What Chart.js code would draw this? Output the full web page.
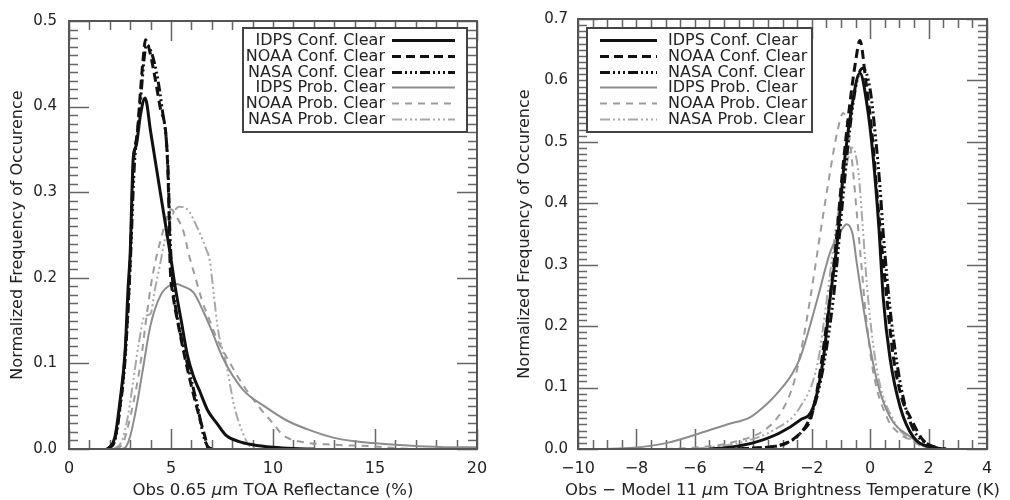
<!DOCTYPE html>
<html>
<head>
<meta charset="utf-8">
<script src="https://cdn.jsdelivr.net/npm/chart.js@4.4.1/dist/chart.umd.min.js"></script>
<style>
  html, body { margin: 0; padding: 0; background: #fff; }
  #wrap { position: relative; width: 1010px; height: 500px; }
  .panel { position: absolute; top: 0; width: 505px; height: 500px; }
</style>
</head>
<body>
<div id="wrap">
  <div class="panel" style="left:0"><canvas id="refl" width="505" height="500"></canvas></div>
  <div class="panel" style="left:505px"><canvas id="bt" width="505" height="500"></canvas></div>
</div>
<script>
// Series names (same for both panels)
const seriesLabels = ['IDPS Conf. Clear', 'NOAA Conf. Clear', 'NASA Conf. Clear',
                      'IDPS Prob. Clear', 'NOAA Prob. Clear', 'NASA Prob. Clear'];

// Left panel: Obs 0.65 um reflectance (%)
const reflTicksX = [0, 5, 10, 15, 20];
const reflTicksY = [0, 0.1, 0.2, 0.3, 0.4, 0.5];

const reflIdpsConfX = [1.85, 2.0, 2.25, 2.5, 2.75, 2.9, 3.0, 3.15, 3.3, 3.5, 3.73, 4.0, 4.5, 5.0, 5.2, 5.5, 5.8, 6.1, 6.4, 6.8, 7.25, 7.7, 8.3, 9.0, 10.0, 11.0, 12.0];
const reflIdpsConfY = [0, 0.002, 0.014, 0.056, 0.114, 0.19, 0.229, 0.34, 0.355, 0.39, 0.41, 0.371, 0.296, 0.222, 0.19, 0.15, 0.11, 0.085, 0.068, 0.045, 0.03, 0.016, 0.009, 0.005, 0.002, 0.0005, 0];

const reflNoaaConfX = [1.9, 2.25, 2.5, 2.75, 3.0, 3.15, 3.35, 3.5, 3.65, 3.75, 3.9, 4.12, 4.46, 4.8, 4.9, 4.95, 5.1, 5.3, 5.8, 6.27, 6.67, 6.8, 7.0];
const reflNoaaConfY = [0, 0.012, 0.05, 0.11, 0.22, 0.33, 0.37, 0.417, 0.46, 0.478, 0.47, 0.446, 0.40, 0.35, 0.28, 0.22, 0.18, 0.152, 0.094, 0.048, 0.014, 0.002, 0];

const reflNasaConfX = [1.9, 2.25, 2.5, 2.75, 3.0, 3.2, 3.4, 3.55, 3.7, 3.8, 4.2, 4.55, 4.85, 4.95, 5.1, 5.3, 5.8, 6.3, 6.6, 6.8, 7.0];
const reflNasaConfY = [0, 0.01, 0.048, 0.105, 0.215, 0.33, 0.38, 0.42, 0.46, 0.472, 0.45, 0.40, 0.33, 0.25, 0.19, 0.155, 0.10, 0.05, 0.015, 0.003, 0];

const reflIdpsProbX = [2.6, 2.8, 3.0, 3.3, 3.6, 4.0, 4.5, 5.0, 5.2, 5.6, 6.1, 6.6, 7.0, 7.55, 8.5, 9.7, 10.7, 11.8, 13.0, 14.0, 14.9, 16.0, 17.5, 19.0, 20.0];
const reflIdpsProbY = [0, 0.003, 0.015, 0.048, 0.09, 0.145, 0.18, 0.192, 0.193, 0.19, 0.183, 0.16, 0.138, 0.106, 0.07, 0.048, 0.033, 0.022, 0.013, 0.009, 0.007, 0.005, 0.003, 0.002, 0.002];

const reflNoaaProbX = [2.3, 2.65, 3.0, 3.5, 3.8, 4.1, 4.55, 5.0, 5.3, 5.6, 5.9, 6.2, 6.5, 6.9, 7.25, 7.9, 8.5, 9.35, 10.0, 10.5, 11.5, 13.0, 15.0, 16.0, 17.0];
const reflNoaaProbY = [0, 0.007, 0.037, 0.099, 0.155, 0.203, 0.249, 0.28, 0.27, 0.255, 0.225, 0.20, 0.175, 0.15, 0.129, 0.10, 0.076, 0.048, 0.03, 0.016, 0.008, 0.005, 0.003, 0.001, 0];

const reflNasaProbX = [2.2, 2.6, 2.9, 3.15, 3.4, 3.7, 4.0, 4.2, 4.45, 4.8, 5.1, 5.4, 5.8, 6.3, 6.7, 6.9, 7.1, 7.3, 7.7, 8.1, 8.5, 8.8, 9.2];
const reflNasaProbY = [0, 0.01, 0.04, 0.08, 0.12, 0.155, 0.158, 0.185, 0.214, 0.255, 0.275, 0.283, 0.28, 0.258, 0.235, 0.22, 0.18, 0.14, 0.10, 0.05, 0.02, 0.005, 0];

// Right panel: Obs - Model 11 um brightness temperature (K)
const btTicksX = [-10, -8, -6, -4, -2, 0, 2, 4];
const btTicksY = [0, 0.1, 0.2, 0.3, 0.4, 0.5, 0.6, 0.7];

const btIdpsConfX = [-5.5, -4.8, -4.0, -3.1, -2.4, -1.95, -1.6, -1.37, -1.1, -0.92, -0.65, -0.35, -0.1, 0.1, 0.3, 0.45, 0.68, 1.03, 1.47, 2.05, 2.5];
const btIdpsConfY = [0, 0.003, 0.01, 0.026, 0.047, 0.068, 0.148, 0.245, 0.348, 0.45, 0.55, 0.612, 0.558, 0.477, 0.36, 0.245, 0.148, 0.068, 0.02, 0.003, 0];

const btNoaaConfX = [-5.0, -3.5, -2.85, -2.3, -2.05, -1.8, -1.5, -1.2, -0.95, -0.7, -0.5, -0.35, -0.15, 0.05, 0.3, 0.57, 0.8, 1.1, 1.37, 1.8, 2.2, 2.6];
const btNoaaConfY = [0, 0.003, 0.01, 0.03, 0.047, 0.10, 0.20, 0.32, 0.45, 0.56, 0.63, 0.665, 0.60, 0.52, 0.38, 0.245, 0.148, 0.08, 0.052, 0.015, 0.003, 0];

const btNasaConfX = [-5.0, -3.5, -2.85, -2.4, -2.05, -1.7, -1.26, -0.95, -0.7, -0.45, -0.25, 0.0, 0.2, 0.34, 0.45, 0.68, 0.92, 1.2, 1.5, 1.9, 2.3, 2.6];
const btNasaConfY = [0, 0.003, 0.01, 0.025, 0.052, 0.11, 0.245, 0.40, 0.52, 0.60, 0.62, 0.585, 0.50, 0.425, 0.35, 0.229, 0.139, 0.07, 0.03, 0.01, 0.002, 0];

const btIdpsProbX = [-9.2, -8.1, -6.95, -5.8, -4.9, -4.1, -3.5, -3.1, -2.7, -2.4, -1.8, -1.37, -1.0, -0.8, -0.6, -0.45, -0.1, 0.24, 0.68, 1.37, 1.95, 2.4];
const btIdpsProbY = [0, 0.002, 0.01, 0.026, 0.04, 0.052, 0.075, 0.095, 0.12, 0.148, 0.245, 0.32, 0.355, 0.366, 0.35, 0.30, 0.192, 0.11, 0.052, 0.02, 0.003, 0];

const btNoaaProbX = [-7.0, -5.8, -4.7, -3.5, -2.95, -2.6, -2.3, -2.05, -1.7, -1.43, -1.13, -0.92, -0.75, -0.6, -0.45, -0.3, -0.15, 0.1, 0.57, 1.0, 1.37, 1.8, 2.2];
const btNoaaProbY = [0, 0.003, 0.011, 0.035, 0.068, 0.11, 0.176, 0.245, 0.353, 0.434, 0.515, 0.547, 0.52, 0.46, 0.38, 0.30, 0.22, 0.127, 0.052, 0.025, 0.015, 0.004, 0];

const btNasaProbX = [-6.0, -4.5, -3.3, -2.4, -1.8, -1.48, -1.2, -0.9, -0.6, -0.4, -0.25, -0.1, 0.24, 0.8, 1.5, 2.1];
const btNasaProbY = [0, 0.01, 0.031, 0.068, 0.139, 0.245, 0.35, 0.44, 0.49, 0.45, 0.36, 0.26, 0.127, 0.047, 0.012, 0];

// line look per series, in legend order
const lineStyles = [
  { color: '#111', width: 3, dash: [] },
  { color: '#111', width: 3, dash: [9, 5] },
  { color: '#111', width: 3, dash: [10, 3, 2, 3, 2, 3, 2, 3] },
  { color: '#8c8c8c', width: 2, dash: [] },
  { color: '#9c9c9c', width: 2, dash: [7, 6] },
  { color: '#a8a8a8', width: 2, dash: [10, 3, 2, 3, 2, 3, 2, 3] }
];

const FONT = 'DejaVu Sans';
const TEXT = '#222';

function toPoints(xs, ys) {
  return xs.map((x, i) => ({ x: x, y: ys[i] }));
}

function makeDatasets(pairs) {
  return pairs.map((p, i) => ({
    label: seriesLabels[i],
    data: toPoints(p[0], p[1]),
    borderColor: lineStyles[i].color,
    borderWidth: lineStyles[i].width,
    borderDash: lineStyles[i].dash,
    pointRadius: 0,
    fill: false,
    cubicInterpolationMode: 'monotone'
  }));
}

// inward major + minor ticks on all four sides, then the box
const framePlugin = {
  id: 'frame',
  beforeDatasetsDraw(chart, args, o) {
    const { ctx, chartArea: a, scales: { x, y } } = chart;
    ctx.save();
    ctx.strokeStyle = '#666';
    ctx.lineWidth = 1.5;
    const isMajor = (v, list) => list.some(t => Math.abs(t - v) < 1e-6);
    ctx.beginPath();
    for (let k = 0; x.min + k * o.xMinor <= x.max + 1e-9; k++) {
      const v = x.min + k * o.xMinor;
      const px = Math.round(x.getPixelForValue(v)) + 0.5;
      const len = isMajor(v, o.xMajor) ? 20 : 9;
      ctx.moveTo(px, a.bottom); ctx.lineTo(px, a.bottom - len);
      ctx.moveTo(px, a.top); ctx.lineTo(px, a.top + len);
    }
    for (let k = 0; y.min + k * o.yMinor <= y.max + 1e-9; k++) {
      const v = y.min + k * o.yMinor;
      const py = Math.round(y.getPixelForValue(v)) + 0.5;
      const len = isMajor(v, o.yMajor) ? 20 : 9;
      ctx.moveTo(a.left, py); ctx.lineTo(a.left + len, py);
      ctx.moveTo(a.right, py); ctx.lineTo(a.right - len, py);
    }
    ctx.stroke();
    ctx.restore();
  },
  afterDatasetsDraw(chart) {
    const { ctx, chartArea: a } = chart;
    ctx.save();
    ctx.strokeStyle = '#555';
    ctx.lineWidth = 2;
    ctx.strokeRect(a.left, a.top, a.right - a.left, a.bottom - a.top);
    ctx.restore();
  }
};

// boxed legend in IDL style
const boxLegend = {
  id: 'boxLegend',
  afterDraw(chart, args, o) {
    const ctx = chart.ctx;
    ctx.save();
    ctx.fillStyle = '#fff';
    ctx.fillRect(o.x, o.y, o.w, o.h);
    ctx.strokeStyle = '#444';
    ctx.lineWidth = 2;
    ctx.strokeRect(o.x, o.y, o.w, o.h);
    ctx.font = '16px "' + FONT + '"';
    ctx.textBaseline = 'middle';
    chart.data.datasets.forEach((ds, i) => {
      const cy = Math.round(o.y + o.rowTop + i * o.rowStep) + 0.5;
      ctx.strokeStyle = ds.borderColor;
      ctx.lineWidth = ds.borderWidth;
      ctx.setLineDash(ds.borderDash);
      ctx.beginPath();
      ctx.moveTo(o.lineX1, cy);
      ctx.lineTo(o.lineX2, cy);
      ctx.stroke();
      ctx.setLineDash([]);
      ctx.fillStyle = TEXT;
      ctx.textAlign = o.textAlign;
      ctx.fillText(ds.label, o.textX, cy);
    });
    ctx.restore();
  }
};

// x-axis title with an italic mu, centred under the plot (may overhang it)
const xTitlePlugin = {
  id: 'xTitle',
  afterDraw(chart, args, o) {
    const { ctx, chartArea: a } = chart;
    ctx.save();
    ctx.fillStyle = TEXT;
    ctx.textBaseline = 'middle';
    ctx.textAlign = 'left';
    const fontOf = p => (p.italic ? 'italic ' : '') + o.size + 'px "' + FONT + '"';
    let total = 0;
    o.parts.forEach(p => { ctx.font = fontOf(p); total += ctx.measureText(p.text).width; });
    let x = (a.left + a.right) / 2 - total / 2;
    o.parts.forEach(p => {
      ctx.font = fontOf(p);
      ctx.fillText(p.text, x, o.y);
      x += ctx.measureText(p.text).width;
    });
    ctx.restore();
  }
};

function axisOptions(cfg) {
  const fmtX = v => String(v).replace('-', '\u2212');
  return {
    x: {
      type: 'linear',
      min: cfg.xTicks[0],
      max: cfg.xTicks[cfg.xTicks.length - 1],
      afterBuildTicks: s => { s.ticks = cfg.xTicks.map(v => ({ value: v })); },
      afterFit: s => { s.height = 51; },
      grid: { display: false, drawTicks: false },
      border: { display: false },
      ticks: { color: TEXT, font: { family: FONT, size: 16 }, padding: 10, maxRotation: 0, callback: fmtX }
    },
    y: {
      type: 'linear',
      min: cfg.yTicks[0],
      max: cfg.yTicks[cfg.yTicks.length - 1],
      afterBuildTicks: s => { s.ticks = cfg.yTicks.map(v => ({ value: v })); },
      afterFit: s => { s.width = cfg.yWidth; },
      grid: { display: false, drawTicks: false },
      border: { display: false },
      ticks: { color: TEXT, font: { family: FONT, size: 15 }, padding: cfg.yPad, callback: v => v.toFixed(1) },
      title: { display: true, text: 'Normalized Frequency of Occurence', color: TEXT, font: { family: FONT, size: 16 }, padding: { top: cfg.yTitlePad, bottom: 0 } }
    }
  };
}

new Chart(document.getElementById('refl'), {
  type: 'line',
  data: {
    datasets: makeDatasets([
      [reflIdpsConfX, reflIdpsConfY], [reflNoaaConfX, reflNoaaConfY], [reflNasaConfX, reflNasaConfY],
      [reflIdpsProbX, reflIdpsProbY], [reflNoaaProbX, reflNoaaProbY], [reflNasaProbX, reflNasaProbY]
    ])
  },
  options: {
    responsive: false,
    animation: false,
    layout: { padding: { left: 0, right: 28, top: 15, bottom: 0 } },
    scales: axisOptions({ xTicks: reflTicksX, yTicks: reflTicksY, yWidth: 69, yPad: 12, yTitlePad: 8 }),
    plugins: {
      legend: { display: false },
      tooltip: { enabled: false },
      frame: { xMinor: 1, xMajor: reflTicksX, yMinor: 0.01, yMajor: reflTicksY },
      boxLegend: { x: 243, y: 28, w: 224, h: 104, rowTop: 12, rowStep: 15.8, lineX1: 392, lineX2: 455, textX: 385, textAlign: 'right' },
      xTitle: { y: 491, size: 16.5, parts: [{ text: 'Obs 0.65 ' }, { text: '\u03bc', italic: true }, { text: 'm TOA Reflectance (%)' }] }
    }
  },
  plugins: [framePlugin, boxLegend, xTitlePlugin]
});

new Chart(document.getElementById('bt'), {
  type: 'line',
  data: {
    datasets: makeDatasets([
      [btIdpsConfX, btIdpsConfY], [btNoaaConfX, btNoaaConfY], [btNasaConfX, btNasaConfY],
      [btIdpsProbX, btIdpsProbY], [btNoaaProbX, btNoaaProbY], [btNasaProbX, btNasaProbY]
    ])
  },
  options: {
    responsive: false,
    animation: false,
    layout: { padding: { left: 0, right: 23, top: 15, bottom: 0 } },
    scales: axisOptions({ xTicks: btTicksX, yTicks: btTicksY, yWidth: 73, yPad: 10, yTitlePad: 10 }),
    plugins: {
      legend: { display: false },
      tooltip: { enabled: false },
      frame: { xMinor: 0.5, xMajor: btTicksX, yMinor: 0.01, yMajor: btTicksY },
      boxLegend: { x: 82, y: 28, w: 225, h: 104, rowTop: 12, rowStep: 15.8, lineX1: 95, lineX2: 152, textX: 163, textAlign: 'left' },
      xTitle: { y: 491, size: 16.5, parts: [{ text: 'Obs \u2212 Model 11 ' }, { text: '\u03bc', italic: true }, { text: 'm TOA Brightness Temperature (K)' }] }
    }
  },
  plugins: [framePlugin, boxLegend, xTitlePlugin]
});
</script>
</body>
</html>
